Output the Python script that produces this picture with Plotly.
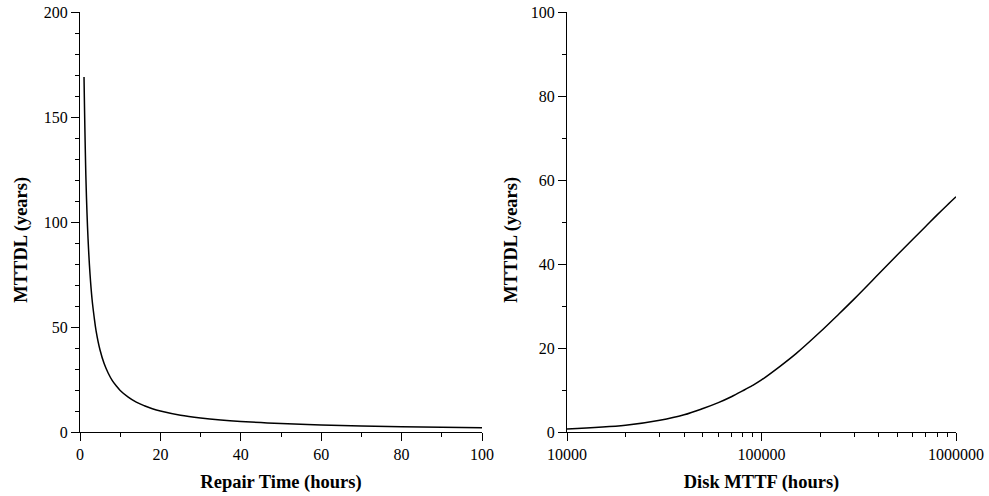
import plotly.graph_objects as go
from plotly.subplots import make_subplots

# Left panel: MTTDL vs repair time
repair_hours = [1, 1.5, 2, 2.5, 3, 3.5, 4, 5, 6, 7, 8, 9, 10, 12, 14, 16, 18, 20,
                25, 30, 35, 40, 45, 50, 60, 70, 80, 90, 100]
mttdl_repair = [169, 119, 92, 75, 63.2, 55, 48.2, 38.9, 32.6, 28.1, 24.6, 22.0, 19.8,
                16.6, 14.2, 12.5, 11.1, 10.0, 8.0, 6.7, 5.74, 5.02, 4.47, 4.02, 3.36,
                2.88, 2.52, 2.24, 2.02]

# Right panel: MTTDL vs disk MTTF
disk_mttf = [10000, 20000, 30000, 40000, 50000, 60000, 70000, 80000, 90000, 100000,
             125000, 150000, 200000, 250000, 300000, 400000, 500000, 600000, 700000,
             800000, 900000, 1000000]
mttdl_mttf = [0.7, 1.6, 2.8, 4.1, 5.6, 7.0, 8.4, 9.8, 11.1, 12.4,
              15.7, 18.6, 23.8, 28.1, 31.7, 37.6, 42.2, 45.9, 49.0,
              51.7, 54.0, 56.0]

log_ticks = [10000, 100000, 1000000]
log_tick_text = ["10000", "100000", "1000000"]
log_minor = [20000, 30000, 40000, 50000, 60000, 70000, 80000, 90000,
             200000, 300000, 400000, 500000, 600000, 700000, 800000, 900000]

x_titles = ["Repair Time (hours)", "Disk MTTF (hours)"]
y_title = "MTTDL (years)"

FONT = "Liberation Serif, Times New Roman, serif"
L, R, T, B = 80, 33, 12, 64
W, H = 989, 496
PW, PH = W - L - R, H - T - B

fig = make_subplots(rows=1, cols=2)
line_style = dict(color="black", width=1.5, shape="spline", smoothing=1.0)
fig.add_trace(go.Scatter(x=repair_hours, y=mttdl_repair, mode="lines",
                         line=line_style, showlegend=False), row=1, col=1)
fig.add_trace(go.Scatter(x=disk_mttf, y=mttdl_mttf, mode="lines",
                         line=line_style, showlegend=False), row=1, col=2)

axis_common = dict(showline=True, linecolor="black", linewidth=1.3, ticks="outside",
                   ticklen=8, tickwidth=1.3, tickcolor="black", showgrid=False,
                   zeroline=False, automargin=False,
                   tickfont=dict(family=FONT, size=16, color="black"))
minor_common = dict(ticks="outside", ticklen=4, tickwidth=1.3, tickcolor="black", showgrid=False)
title_font = dict(family=FONT, size=18.5, color="black")

left_dom = [0.0, (482 - L) / PW]
right_dom = [(567 - L) / PW, 1.0]

fig.update_xaxes(domain=left_dom, range=[0, 100], dtick=20, tick0=0,
                 minor=dict(dtick=10, **minor_common),
                 title=dict(text="<b>" + x_titles[0] + "</b>", font=title_font, standoff=12),
                 row=1, col=1, **axis_common)
fig.update_yaxes(range=[0, 200], dtick=50, tick0=0,
                 minor=dict(dtick=10, **minor_common),
                 row=1, col=1, **axis_common)
fig.update_xaxes(domain=right_dom, type="log", range=[4, 6],
                 tickvals=log_ticks, ticktext=log_tick_text,
                 minor=dict(tickvals=log_minor, **minor_common),
                 title=dict(text="<b>" + x_titles[1] + "</b>", font=title_font, standoff=12),
                 row=1, col=2, **axis_common)
fig.update_yaxes(range=[0, 100], dtick=20, tick0=0,
                 minor=dict(dtick=10, **minor_common),
                 row=1, col=2, **axis_common)

ytitle_y = (432 - 240) / PH
for xpix in (20.7, 510.7):
    fig.add_annotation(text="<b>" + y_title + "</b>", textangle=-90,
                       x=(xpix - L) / PW, y=ytitle_y, xref="paper", yref="paper",
                       xanchor="center", yanchor="middle", showarrow=False,
                       font=title_font)

fig.update_layout(width=W, height=H, margin=dict(l=L, r=R, t=T, b=B),
                  paper_bgcolor="white", plot_bgcolor="white",
                  font=dict(family=FONT, size=16, color="black"))

fig.write_html("out.html")
